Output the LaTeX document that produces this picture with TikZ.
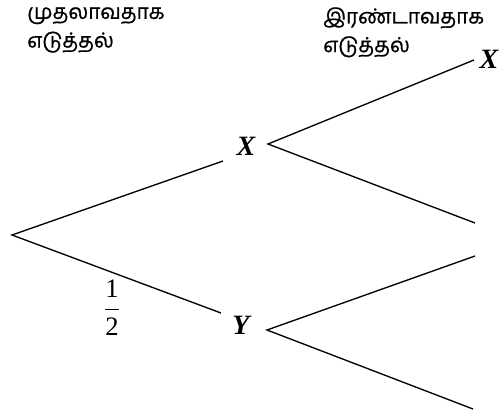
\documentclass[tikz,border=0pt]{standalone}
\usepackage{fontspec}
\setmainfont{Liberation Serif}
\newfontfamily\tamil[Script=Tamil,FakeBold=0.8]{Hind Madurai}
\begin{document}
\begin{tikzpicture}[x=0.75pt,y=-0.75pt,
  branch/.style={line width=1pt},
  lbl/.style={inner sep=0pt,font=\fontsize{21}{21}\selectfont\bfseries\itshape},
  head/.style={inner sep=0pt,anchor=north west,align=left,font=\tamil\fontsize{15.5}{21.5}\selectfont}]
\useasboundingbox (0,0) rectangle (499,418);
\clip (0,0) rectangle (499,418);
\node[head] (h1) at (27,7) {முதலாவதாக\\எடுத்தல்};
\node[head] (h2) at (323,7) {இரண்டாவதாக\\எடுத்தல்};
\coordinate (root) at (12,235);
\coordinate (a1) at (223,161);
\coordinate (a2) at (221,313);
\node[lbl] (X) at (246,146) {X};
\node[lbl] (Y) at (241,325) {Y};
\coordinate (xf) at (268,144);
\coordinate (yf) at (267,330);
\coordinate (e1) at (474,60);
\coordinate (e2) at (475,223);
\coordinate (e3) at (475,256);
\coordinate (e4) at (473,409);
\node[lbl] (X2) at (489,59) {X};
\node[inner sep=0pt,font=\fontsize{20}{20}\selectfont] (half) at (112,308) {$\displaystyle\frac{\mbox{1}}{\mbox{2}}$};
\draw[branch] (a1) -- (root) -- (a2);
\draw[branch] (e1) -- (xf) -- (e2);
\draw[branch] (e3) -- (yf) -- (e4);
\end{tikzpicture}
\end{document}
